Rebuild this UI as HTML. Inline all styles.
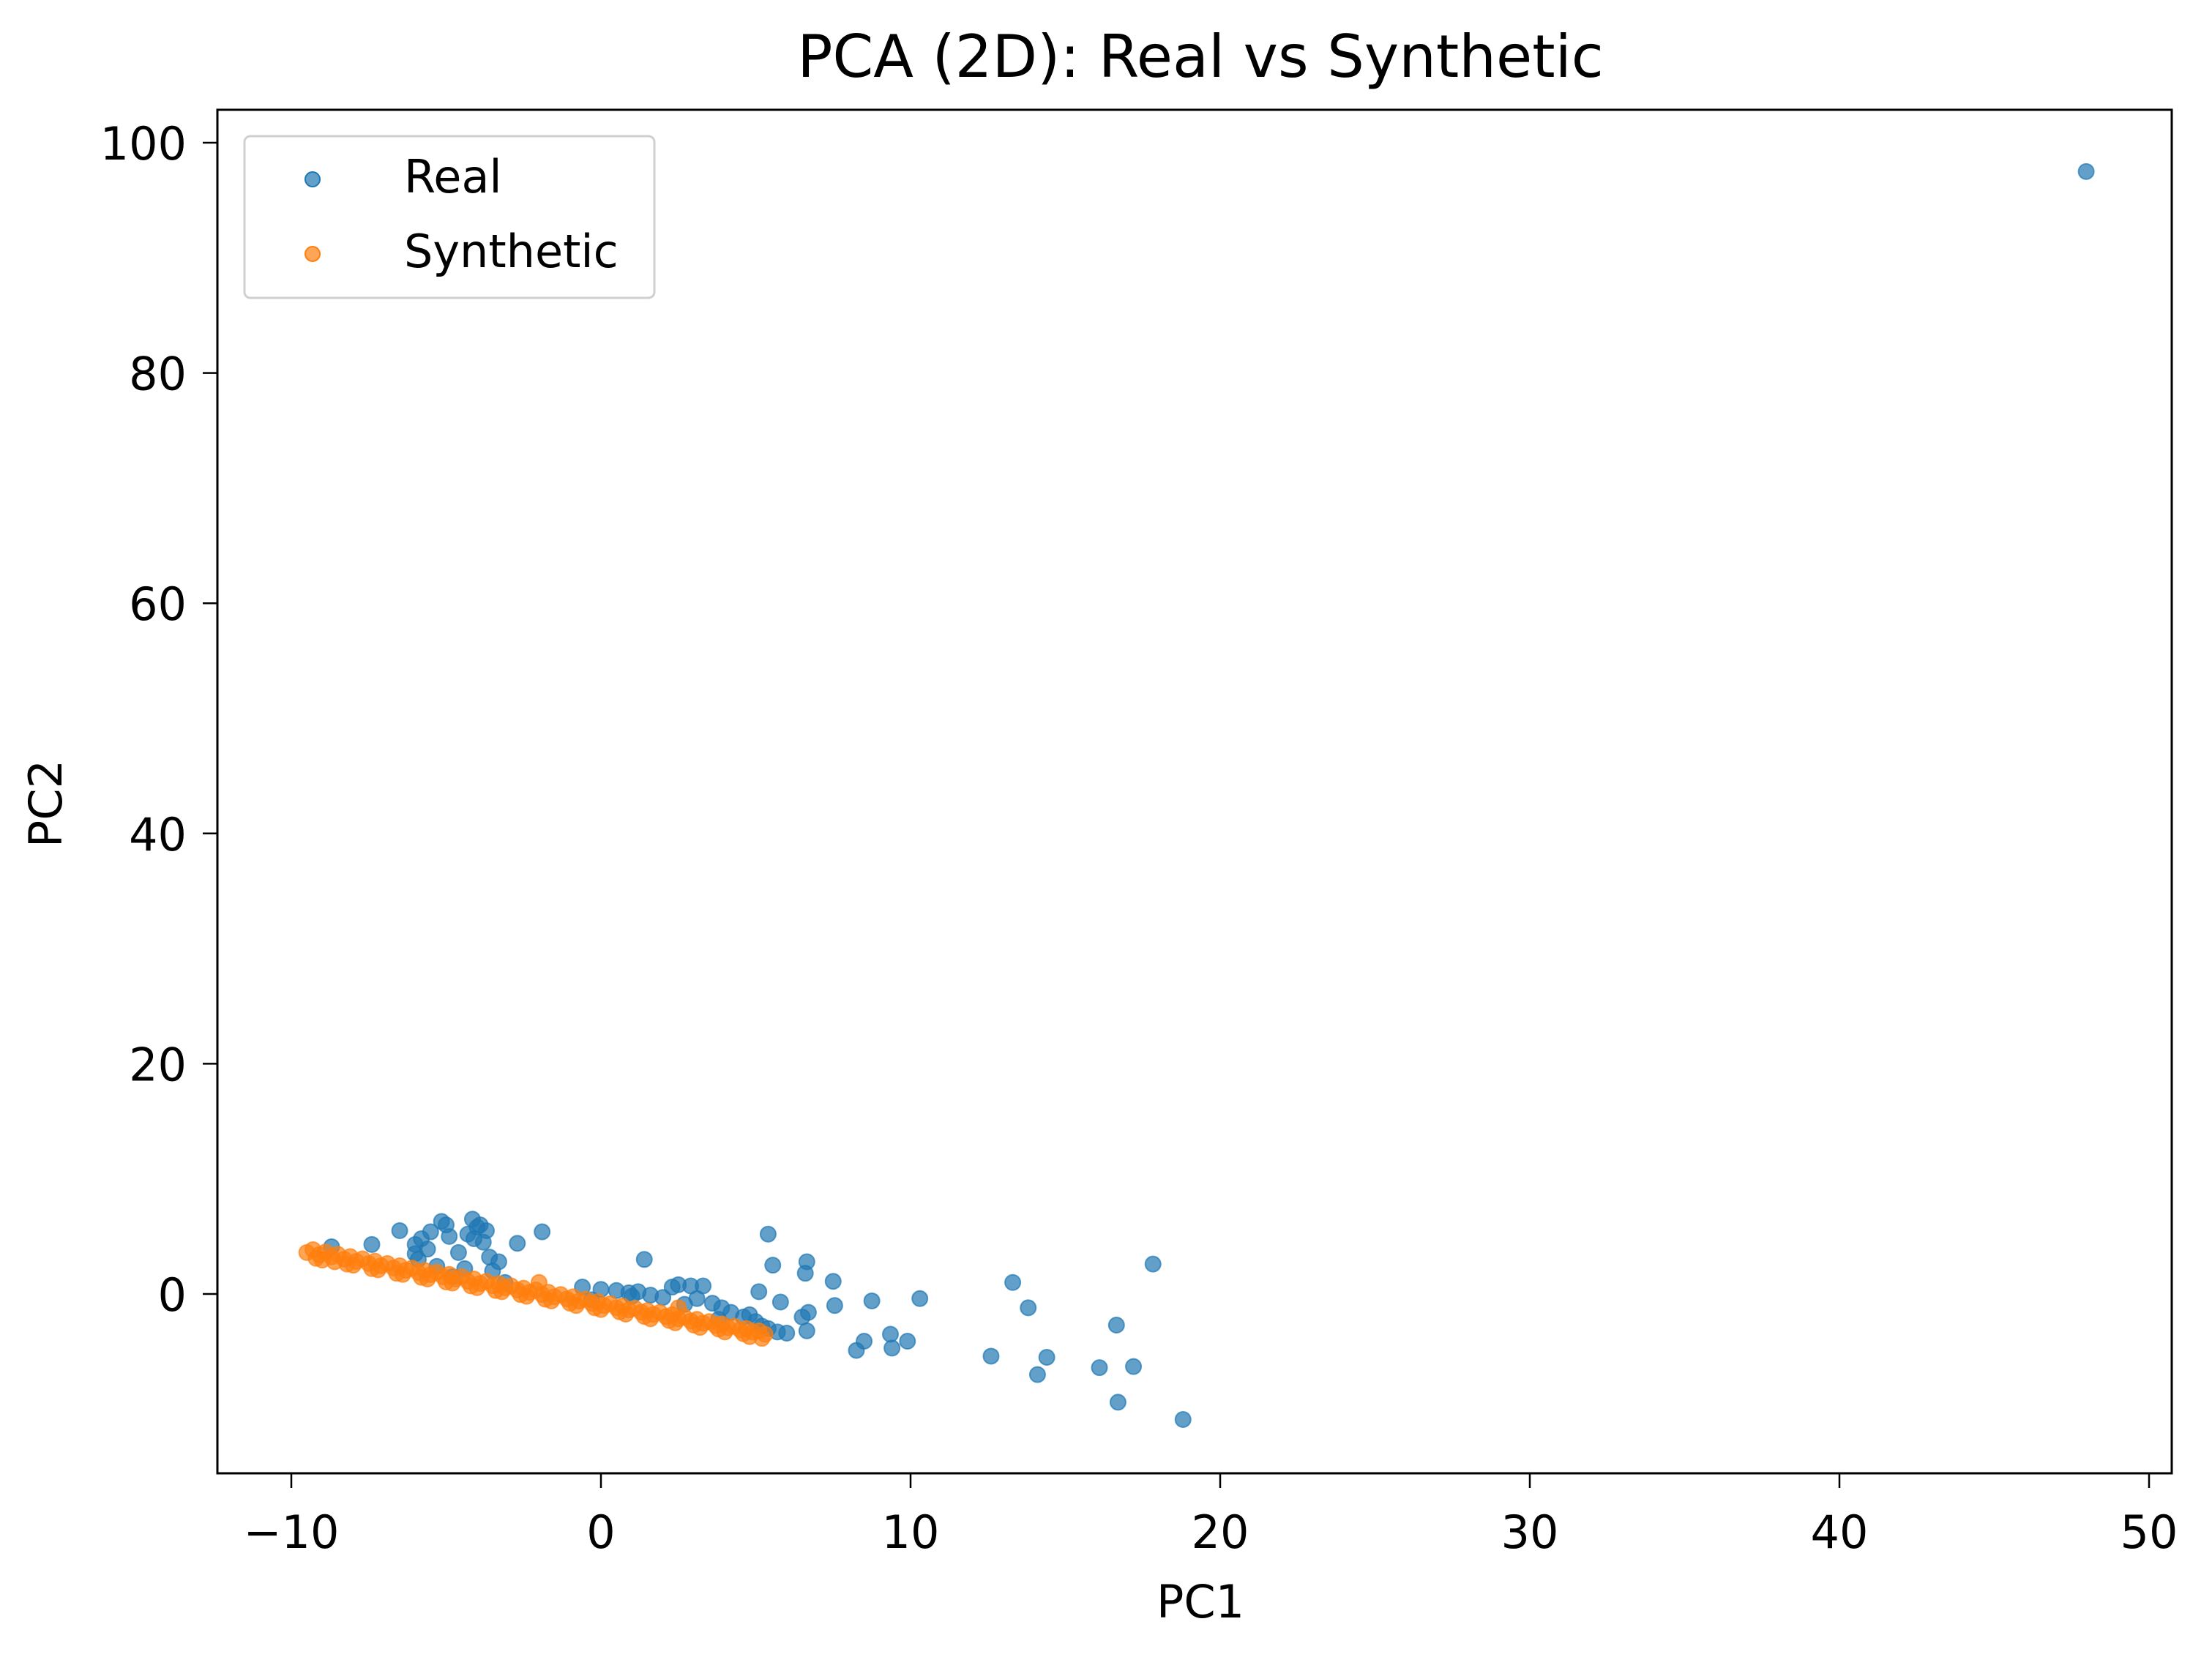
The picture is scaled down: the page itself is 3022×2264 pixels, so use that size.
<!DOCTYPE html>
<html><head><meta charset="utf-8">
<style>
html,body{margin:0;padding:0;background:#fff;}
svg{display:block;}
text{font-family:"DejaVu Sans","Liberation Sans",sans-serif;fill:#000;}
</style></head>
<body>
<svg id="chart" width="3022" height="2264" viewBox="0 0 3022 2264" xmlns="http://www.w3.org/2000/svg">
  <rect x="0" y="0" width="3022" height="2264" fill="#fff"/>
  <text x="1640" y="105" font-size="80" text-anchor="middle">PCA (2D): Real vs Synthetic</text>
  <g id="plot"></g>
  <g id="axes"></g>
  <text x="1640" y="2210" font-size="62" text-anchor="middle">PC1</text>
  <text x="0" y="0" font-size="62" text-anchor="middle" transform="translate(84,1098) rotate(-90)">PC2</text>
  <g>
    <rect x="334" y="186" width="560" height="221" rx="8" fill="#fff" fill-opacity="0.8" stroke="#d0d0d0" stroke-width="3"/>
    <circle cx="427" cy="245" r="10" fill="#1f77b4" fill-opacity="0.7" stroke="#1f77b4" stroke-width="2"/>
    <text x="552" y="263" font-size="62">Real</text>
    <circle cx="427" cy="347" r="10" fill="#ff7f0e" fill-opacity="0.7" stroke="#ff7f0e" stroke-width="2"/>
    <text x="552" y="365" font-size="62">Synthetic</text>
  </g>
</svg>
<script>
const xTicks = [-10, 0, 10, 20, 30, 40, 50];
const yTicks = [0, 20, 40, 60, 80, 100];
const xTickLabels = ["\u221210", "0", "10", "20", "30", "40", "50"];
const yTickLabels = ["0", "20", "40", "60", "80", "100"];

const realX = [47.97, 17.83, 18.8, 16.7, 17.2, 16.65, 16.1, 14.4, 14.1, 13.8, 13.3, 12.6, 10.3, 9.9, 9.35, 9.4, 8.75, 8.5, 8.25, 7.5, 7.55, 6.65, 6.6, 6.7, 6.65, 6.5, 5.8, 5.55, 5.4, 5.1,
  -6.5, -6.0, -5.9, -5.15, -4.9, -4.15, -3.7, -3.3, -1.9, -2.7, -7.4, -8.7, 1.4, -5.6, -5.3, -4.6, -4.4, -4.0, -3.8, -3.5, -4.8, -5.0, -3.1,
  -0.6, 0.0, 0.5, 0.9, 1.2, 1.6, 2.0, 2.3, 2.5, 2.9, 3.1, 3.3, 3.6, 3.9, 4.2, 4.6, 5.0, 5.4, 5.7, 6.0, 4.8, 2.7, 1.0, -0.3, 3.8, 5.2,
  -6.0, -5.8, -5.5, -4.3, -4.1, -3.9, -3.6];
const realY = [97.5, 2.6, -10.9, -9.4, -6.3, -2.7, -6.4, -5.5, -7.0, -1.2, 1.0, -5.4, -0.4, -4.1, -3.5, -4.7, -0.6, -4.1, -4.9, 1.1, -1.0, 2.8, 1.8, -1.6, -3.2, -2.0, -0.7, 2.5, 5.2, 0.2,
  5.5, 4.3, 3.0, 6.3, 5.0, 6.5, 5.5, 2.8, 5.4, 4.4, 4.3, 4.1, 3.0, 3.9, 2.4, 3.6, 2.2, 5.8, 4.5, 2.0, 1.5, 6.0, 1.0,
  0.6, 0.4, 0.3, 0.1, 0.2, -0.1, -0.3, 0.6, 0.8, 0.7, -0.4, 0.7, -0.8, -1.2, -1.6, -2.0, -2.4, -3.0, -3.3, -3.4, -1.8, -0.9, -0.2, -0.5, -2.2, -2.8,
  3.5, 4.8, 5.4, 5.2, 4.8, 6.0, 3.2];

const synX = [-9.5, -9.1, -8.7, -8.3, -7.9, -7.5, -7.1, -6.7, -6.3, -5.9, -5.5, -5.1, -4.7, -4.3, -3.9, -3.5, -3.1, -2.7, -2.3, -1.9, -1.5, -1.1, -0.7, -0.3, 0.1, 0.5, 0.9, 1.3, 1.7, 2.1, 2.5, 2.9, 3.3, 3.7, 4.1, 4.5, 4.9, 5.3,
  -9.3, -8.9, -8.5, -8.1, -7.7, -7.3, -6.9, -6.5, -6.1, -5.7, -5.3, -4.9, -4.5, -4.1, -3.7, -3.3, -2.9, -2.5, -2.1, -1.7, -1.3, -0.9, -0.5, -0.1, 0.3, 0.7, 1.1, 1.5, 1.9, 2.3, 2.7, 3.1, 3.5, 3.9, 4.3, 4.7, 5.1,
  -9.0, -8.2, -7.4, -6.6, -5.8, -5.0, -4.2, -3.4, -2.6, -1.8, -1.0, -0.2, 0.6, 1.4, 2.2, 3.0, 3.8, 4.6, -2.0, 2.5,
  -9.2, -8.6, -8.0, -7.2, -6.4, -5.6, -4.8, -4.0, -3.2, -2.4, -1.6, -0.8, 0.0, 0.8, 1.6, 2.4, 3.2, 4.0, 4.8, 5.2];
const synY = [3.6, 3.41, 3.22, 3.02, 2.83, 2.64, 2.45, 2.26, 2.06, 1.87, 1.68, 1.49, 1.30, 1.10, 0.91, 0.72, 0.53, 0.34, 0.14, -0.05, -0.24, -0.43, -0.62, -0.82, -1.01, -1.2, -1.39, -1.58, -1.78, -1.97, -2.16, -2.35, -2.54, -2.74, -2.93, -3.12, -3.31, -3.5,
  3.85, 3.65, 3.45, 3.25, 3.05, 2.85, 2.65, 2.45, 2.25, 2.05, 1.9, 1.7, 1.5, 1.3, 1.1, 0.9, 0.7, 0.5, 0.35, 0.15, -0.05, -0.25, -0.45, -0.65, -0.85, -1.05, -1.25, -1.45, -1.6, -1.8, -2.0, -2.2, -2.4, -2.6, -2.8, -3.0, -3.2,
  2.95, 2.6, 2.2, 1.8, 1.45, 1.05, 0.7, 0.3, -0.05, -0.45, -0.8, -1.2, -1.55, -1.95, -2.3, -2.7, -3.05, -3.45, 1.0, -1.2,
  3.1, 2.8, 2.5, 2.1, 1.7, 1.3, 0.95, 0.55, 0.2, -0.2, -0.6, -1.0, -1.35, -1.75, -2.15, -2.5, -2.9, -3.3, -3.7, -3.85];

const X0 = 297, X1 = 2967, Y0 = 150, Y1 = 2013;
function sx(v){ return 821 + v * 42.3; }
function sy(v){ return 1768 - v * 15.73; }

const NS = "http://www.w3.org/2000/svg";
const plot = document.getElementById('plot');
const axes = document.getElementById('axes');

function dot(x, y, color, name){
  const c = document.createElementNS(NS, 'circle');
  c.setAttribute('cx', sx(x)); c.setAttribute('cy', sy(y)); c.setAttribute('r', 10.5);
  c.setAttribute('fill', color); c.setAttribute('fill-opacity', 0.7);
  c.setAttribute('stroke', color); c.setAttribute('stroke-opacity', 0.7); c.setAttribute('stroke-width', 2);
  
  
  plot.appendChild(c);
}
for (let i = 0; i < realX.length; i++) dot(realX[i], realY[i], '#1f77b4', 'real-point');
for (let i = 0; i < synX.length; i++) dot(synX[i], synY[i], '#ff7f0e', 'synthetic-point');

const frame = document.createElementNS(NS, 'rect');
frame.setAttribute('x', X0); frame.setAttribute('y', Y0);
frame.setAttribute('width', X1 - X0); frame.setAttribute('height', Y1 - Y0);
frame.setAttribute('fill', 'none'); frame.setAttribute('stroke', '#000'); frame.setAttribute('stroke-width', 3);


axes.appendChild(frame);

xTicks.forEach((t, i) => {
  const l = document.createElementNS(NS, 'line');
  l.setAttribute('x1', sx(t)); l.setAttribute('x2', sx(t)); l.setAttribute('y1', Y1); l.setAttribute('y2', Y1 + 20);
  l.setAttribute('stroke', '#000'); l.setAttribute('stroke-width', 2.5);
  
  
  axes.appendChild(l);
  const tx = document.createElementNS(NS, 'text');
  tx.setAttribute('x', sx(t)); tx.setAttribute('y', 2115); tx.setAttribute('font-size', 62); tx.setAttribute('text-anchor', 'middle');
  tx.textContent = xTickLabels[i];
  
  
  axes.appendChild(tx);
});
yTicks.forEach((t, i) => {
  const l = document.createElementNS(NS, 'line');
  l.setAttribute('x1', X0 - 20); l.setAttribute('x2', X0); l.setAttribute('y1', sy(t)); l.setAttribute('y2', sy(t));
  l.setAttribute('stroke', '#000'); l.setAttribute('stroke-width', 2.5);
  
  
  axes.appendChild(l);
  const tx = document.createElementNS(NS, 'text');
  tx.setAttribute('x', X0 - 42); tx.setAttribute('y', sy(t) + 23); tx.setAttribute('font-size', 62); tx.setAttribute('text-anchor', 'end');
  tx.textContent = yTickLabels[i];
  
  
  axes.appendChild(tx);
});
</script>
</body></html>
